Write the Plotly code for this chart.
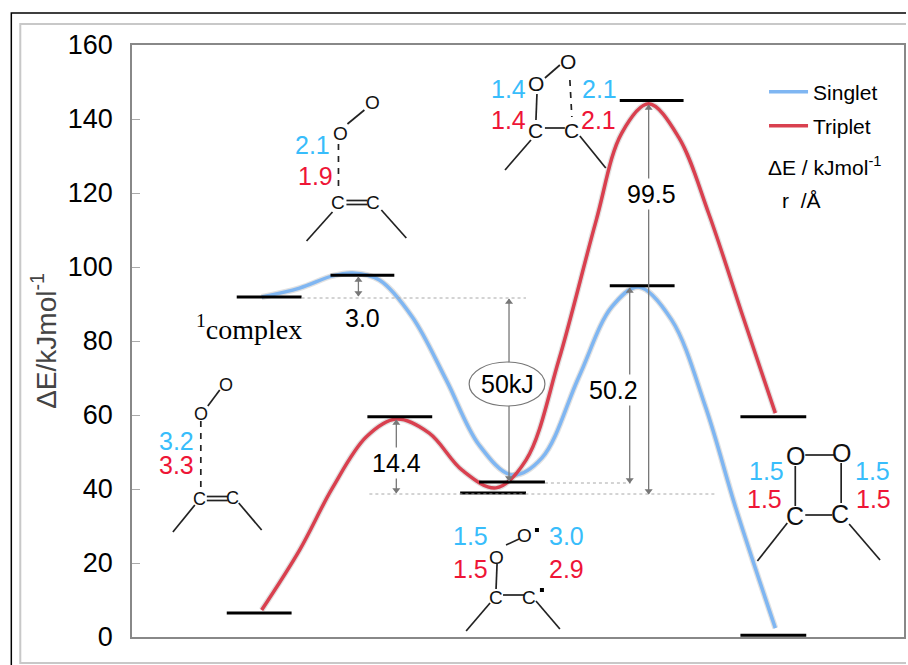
import plotly.graph_objects as go

# ---- data (x = reaction coordinate position, y = kJ/mol) ----
singlet_x = [262, 300, 333, 353, 380, 413, 447, 480, 513, 543, 580, 613, 640, 673, 707, 738, 777]
singlet_e = [91.9, 94.3, 97.6, 98.4, 96.5, 86.5, 69.5, 51.9, 43.8, 48.4, 70.3, 89.2, 94.6, 85.7, 62.2, 34.3, 2.4]
triplet_x = [262, 300, 333, 367, 397, 430, 463, 497, 527, 560, 597, 623, 650, 680, 710, 745, 777]
triplet_e = [7.3, 23.5, 40.3, 54.1, 58.9, 55.1, 45.1, 40.3, 47.8, 74.9, 112.2, 136.2, 144.1, 135.1, 114.6, 86.2, 60.5]
level_x0 = [237, 331, 368, 480, 461, 227, 621, 611, 742, 742]
level_x1 = [302, 395, 433, 546, 527, 292, 685, 676, 808, 808]
level_e = [91.9, 97.8, 59.5, 41.9, 38.9, 6.5, 145.0, 94.9, 59.5, 0.5]
tick_vals = [0, 20, 40, 60, 80, 100, 120, 140, 160]

SANS = "Liberation Sans, Arial"
SERIF = "Liberation Serif, Times New Roman"
CYAN = "#38bdfb"
RED = "#ee1536"
BLUE_LINE = "#7fb6f2"
RED_LINE = "#d9404f"
SHADOW = "rgba(120,120,120,0.22)"
L, R, T, B = 132, 906, 45, 637


def E(py):
    return (B - py) / 3.7


def px(x):
    return (x - L) / (R - L)


def py_(y):
    return (B - y) / (B - T)


def segs(items):
    xs, ys = [], []
    for x0, y0, x1, y1 in items:
        xs += [x0, x1, None]
        ys += [E(y0), E(y1), None]
    return xs, ys


fig = go.Figure()

# curve shadows then curves
for xs, es, in [(singlet_x, singlet_e), (triplet_x, triplet_e)]:
    fig.add_trace(go.Scatter(x=xs, y=es, mode="lines", showlegend=False, hoverinfo="skip",
                             line=dict(color=SHADOW, width=6, shape="spline", smoothing=1)))
fig.add_trace(go.Scatter(x=singlet_x, y=singlet_e, mode="lines", name="Singlet", legend="legend",
                         line=dict(color=BLUE_LINE, width=3.5, shape="spline", smoothing=1)))
fig.add_trace(go.Scatter(x=triplet_x, y=triplet_e, mode="lines", name="Triplet", legend="legend2",
                         line=dict(color=RED_LINE, width=3.5, shape="spline", smoothing=1)))

# energy levels
lx, ly = [], []
for a, b, e in zip(level_x0, level_x1, level_e):
    lx += [a, b, None]
    ly += [e, e, None]
fig.add_trace(go.Scatter(x=lx, y=ly, mode="lines", showlegend=False, hoverinfo="skip",
                         line=dict(color="black", width=3)))

# dotted guides
dx, dy = segs([(302, 298, 527, 298), (370, 494, 716, 494), (546, 483, 632, 483)])
fig.add_trace(go.Scatter(x=dx, y=dy, mode="lines", showlegend=False, hoverinfo="skip",
                         line=dict(color="#a8a8a8", width=1, dash="dot")))

# double arrows
for x, top, bot in [(359, 277, 296), (397, 420, 493), (510, 299, 481), (631, 288, 483), (650, 105, 494)]:
    fig.add_trace(go.Scatter(x=[x, x], y=[E(top), E(bot)], mode="lines", showlegend=False, hoverinfo="skip",
                             line=dict(color="#777777", width=1.3)))
    fig.add_trace(go.Scatter(x=[x, x], y=[E(top + 3), E(bot - 3)], mode="markers", showlegend=False,
                             hoverinfo="skip",
                             marker=dict(symbol=["triangle-up", "triangle-down"], size=7, color="#777777")))

# molecule bonds
solid = [
    (208, 406, 220, 390), (195, 505, 173, 532), (239, 503, 262, 530), (207, 496.5, 228, 496.5), (207, 500.5, 228, 500.5),
    (348, 124, 365, 110), (333, 212, 307, 241), (382, 210, 407, 238), (347, 200.5, 368, 200.5), (347, 204.5, 368, 204.5),
    (546, 78, 561, 65), (538, 94, 537, 120), (546, 128, 566, 128), (532, 140, 506, 170), (581, 136, 607, 168),
    (507, 545, 520, 539), (498, 564, 497, 589), (504, 595, 525, 595), (491, 603, 467, 631), (537, 601, 561, 629),
    (807, 455, 836, 455), (797, 466, 797, 506), (843, 463, 843, 503), (807, 515, 834, 515), (789, 523, 759, 561), (851, 524, 882, 560),
]
sx, sy = segs(solid)
fig.add_trace(go.Scatter(x=sx, y=sy, mode="lines", showlegend=False, hoverinfo="skip",
                         line=dict(color="#222222", width=1.7)))
dashed = [(201, 421, 201, 490), (339, 144, 339, 191), (571, 80, 573, 117)]
hx, hy = segs(dashed)
fig.add_trace(go.Scatter(x=hx, y=hy, mode="lines", showlegend=False, hoverinfo="skip",
                         line=dict(color="#222222", width=1.7, dash="6px,6px")))
fig.add_trace(go.Scatter(x=[538, 543], y=[E(530), E(590)], mode="markers", showlegend=False, hoverinfo="skip",
                         marker=dict(symbol="square", size=4, color="black")))


def note(x, y, text, size, color="black", family=SANS, **kw):
    fig.add_annotation(x=x, y=E(y), text=text, showarrow=False, xanchor="center", yanchor="middle",
                       font=dict(family=family, size=size, color=color), **kw)


# atoms
for x, y, t, s in [
    (226, 385, "O", 18), (201, 414, "O", 18), (200, 499, "C", 18), (233, 498, "C", 18),
    (373, 102, "O", 19), (341, 133, "O", 19), (339, 202, "C", 19), (374, 202, "C", 19),
    (569, 61, "O", 21), (537, 83, "O", 21), (537, 130, "C", 21), (573, 130, "C", 21),
    (526, 535, "O", 19), (497, 557, "O", 19), (497, 597, "C", 19), (530, 597, "C", 19),
    (797, 456, "O", 25), (843, 453, "O", 25), (797, 516, "C", 25), (842, 514, "C", 25),
]:
    note(x, y, t, s, color="#111111")

# bond lengths
for x, y, t, c in [
    (177, 441, "3.2", CYAN), (177, 465, "3.3", RED),
    (313, 145, "2.1", CYAN), (316, 176, "1.9", RED),
    (509, 89, "1.4", CYAN), (509, 120, "1.4", RED), (601, 89, "2.1", CYAN), (600, 120, "2.1", RED),
    (471, 536, "1.5", CYAN), (471, 569, "1.5", RED), (568, 536, "3.0", CYAN), (568, 569, "2.9", RED),
    (768, 471, "1.5", CYAN), (766, 499, "1.5", RED), (874, 471, "1.5", CYAN), (875, 499, "1.5", RED),
]:
    note(x, y, t, 25, color=c)

# energy labels
note(363, 318, "3.0", 25)
note(397, 463, "14.4", 25, bgcolor="white")
note(615, 390, "50.2", 25, bgcolor="white")
note(653, 194, "99.5", 25, bgcolor="white")
note(508, 384, "50kJ", 25)
note(249, 327, "<sup>1</sup>complex", 28, family=SERIF)
fig.add_annotation(x=768, y=E(166), text="ΔE / kJmol<sup>-1</sup>", showarrow=False, xanchor="left", yanchor="middle",
                   font=dict(family=SANS, size=21, color="black"))
fig.add_annotation(x=782, y=E(200), text="r  /Å", showarrow=False, xanchor="left", yanchor="middle",
                   font=dict(family=SANS, size=21, color="black"))

# ellipse and outer frames
fig.add_shape(type="circle", xref="x", yref="y", x0=470, x1=546, y0=E(406), y1=E(362),
              line=dict(color="#777777", width=1.2), fillcolor="white", layer="above")
fig.add_shape(type="path", xref="paper", yref="paper",
              path=f"M {px(11)} {py_(665)} L {px(11)} {py_(13)} L {px(908)} {py_(13)}",
              line=dict(color="black", width=1.5))
fig.add_shape(type="path", xref="paper", yref="paper",
              path=f"M {px(908)} {py_(24)} L {px(20)} {py_(24)} L {px(20)} {py_(663)} L {px(908)} {py_(663)}",
              line=dict(color="#c8c8c8", width=2))

LEG_X = (768 - L) / (R - L) - 0.003
fig.update_layout(
    width=908, height=665, autosize=False,
    margin=dict(l=L, r=908 - R, t=T, b=665 - B),
    paper_bgcolor="white", plot_bgcolor="white", showlegend=True,
    legend=dict(x=LEG_X, y=py_(92), xanchor="left", yanchor="middle", itemwidth=39,
                bgcolor="rgba(0,0,0,0)", font=dict(family=SANS, size=21, color="black")),
    legend2=dict(x=LEG_X, y=py_(126), xanchor="left", yanchor="middle", itemwidth=39,
                 bgcolor="rgba(0,0,0,0)", font=dict(family=SANS, size=21, color="black")),
    xaxis=dict(range=[L, R], showgrid=False, showticklabels=False, ticks="", zeroline=False,
               showline=True, mirror=True, linecolor="#888888", linewidth=1.5, fixedrange=True),
    yaxis=dict(range=[0, 160], tickvals=tick_vals, showgrid=False, zeroline=False, ticks="inside", ticklen=8,
               tickcolor="#aaaaaa", showline=True, mirror=True, linecolor="#888888", linewidth=1.5,
               ticklabelstandoff=12, tickfont=dict(family=SANS, size=27, color="black"),
               title=dict(text="ΔE/kJmol<sup>-1</sup>", standoff=3,
                          font=dict(family=SANS, size=28, color="#444444")),
               fixedrange=True),
)

fig.write_html("out.html", config=dict(displayModeBar=False),
               post_script="document.body.style.margin='0';")
